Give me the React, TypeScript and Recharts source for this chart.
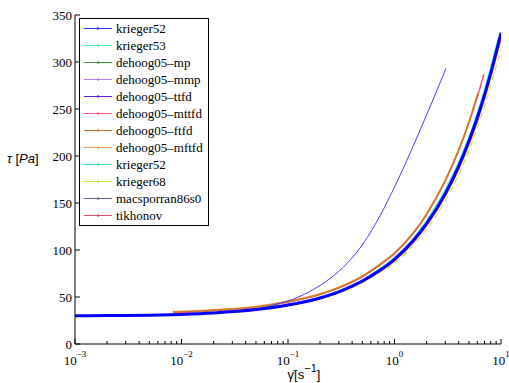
import React from 'react'
import { LineChart, Line, XAxis, YAxis, Legend } from 'recharts'

// shear rate [1/s] and stress [Pa]
const MAIN_X = [0.001, 0.002, 0.005, 0.01, 0.02, 0.05, 0.1, 0.2, 0.3, 0.5, 0.7, 1, 1.5, 2, 3, 4, 5, 6, 7, 8, 10]
const MAIN_Y = [30, 30.2, 30.6, 31.5, 33, 36.6, 41.5, 49, 55.5, 67, 77, 90, 110, 128, 160, 189, 216, 241, 265, 288, 331]

const TIKHONOV_Y = [30, 30.2, 30.6, 31.5, 33, 36.5, 41.2, 48.5, 55, 66, 76, 88.5, 108, 126, 157.5, 186, 212.5, 237, 261, 284, 325]
const KRIEGER68_Y = [30, 30.2, 30.6, 31.5, 33, 36.4, 40.8, 48, 54, 65, 75, 86, 105, 122, 153, 180, 206, 230, 253, 275, 314]

const K53_X = [0.001, 0.002, 0.005, 0.01, 0.02, 0.05, 0.1, 0.2, 0.3, 0.5, 0.7, 1, 1.5, 2, 3, 4, 5, 6, 7, 8, 9.5]
const K53_Y = [30, 30.2, 30.7, 31.6, 33.2, 37, 42, 50, 56.5, 68, 78.5, 92, 112, 131, 164, 193, 220, 246, 270, 294, 326]

const TTFD_X = [0.001, 0.01, 0.05, 0.084, 0.12, 0.17, 0.25, 0.36, 0.51, 0.72, 1.03, 1.49, 2.15, 3.04]
const TTFD_Y = [30, 31.5, 37, 43.5, 49, 57.5, 70, 86, 107, 135, 170, 210, 252, 293]

const FTFD_X = [0.0083, 0.01, 0.02, 0.05, 0.1, 0.2, 0.3, 0.5, 0.7, 1, 1.5, 2, 3, 4, 5, 6.1]
const FTFD_Y = [34, 34.3, 36, 39.5, 45, 53, 60, 72, 83, 96.5, 118, 138, 174, 206, 236, 267]
const MFTFD_Y = [34.5, 34.8, 36.5, 40, 45.5, 53.5, 60.5, 72.5, 83.5, 97, 118.5, 138.5, 174.5, 206.5, 236.5, 267.5]

const MTTFD_X = [0.0083, 0.01, 0.02, 0.05, 0.1, 0.2, 0.3, 0.5, 0.7, 1, 1.5, 2, 3, 4, 5, 6, 6.9]
const MTTFD_Y = [33.5, 33.8, 35.5, 39, 44.5, 52.5, 59.5, 71.5, 82.5, 96, 117.5, 137.5, 173.5, 205.5, 235.5, 263, 287]

const DECADES = [0.001, 0.01, 0.1, 1, 10]
const Y_TICKS = [0, 50, 100, 150, 200, 250, 300, 350]

const LEGEND_NAMES = [
  'krieger52', 'krieger53', 'dehoog05–mp', 'dehoog05–mmp', 'dehoog05–ttfd', 'dehoog05–mttfd',
  'dehoog05–ftfd', 'dehoog05–mftfd', 'krieger52', 'krieger68', 'macsporran86s0', 'tikhonov',
]
const LEGEND_COLORS = [
  '#3030ff', '#44f0c4', '#3c8c3c', '#b07cf0', '#5a22e6', '#f05c78',
  '#c87a2c', '#ff9c50', '#34e0b4', '#c8e63c', '#6a5a9a', '#e0506a',
]

const zip = (xs: number[], ys: number[]) => xs.map((x, i) => ({ x, y: ys[i] }))

const X_TICKS: number[] = []
DECADES.forEach((d, i) => {
  X_TICKS.push(d)
  if (i < DECADES.length - 1) for (let m = 2; m <= 9; m++) X_TICKS.push(d * m)
})

const SERIF = '"Liberation Serif", "Times New Roman", Times, "DejaVu Serif", serif'
const SANS = '"Liberation Sans", Arial, Helvetica, sans-serif'

function XTick(props: any) {
  const { x, y, payload } = props
  const lg = Math.log10(payload.value)
  const e = Math.round(lg)
  const major = Math.abs(lg - e) < 1e-6
  return (
    <g>
      <line x1={x} x2={x} y1={y} y2={y - (major ? 5 : 3)} stroke="#000" />
      {major && (
        <text x={x} y={y + 21} textAnchor="middle" fontFamily={SERIF} fontSize={13} fill="#000">
          10<tspan dy={-8} fontSize={9}>{e < 0 ? '−' + -e : String(e)}</tspan>
        </text>
      )}
    </g>
  )
}

function YTick(props: any) {
  const { x, y, payload } = props
  return (
    <g>
      <line x1={x} x2={x + 5} y1={y} y2={y} stroke="#000" />
      <text x={x - 3} y={y + 4.5} textAnchor="end" fontFamily={SERIF} fontSize={13} fill="#000">
        {payload.value}
      </text>
    </g>
  )
}

function LegendBox() {
  return (
    <div
      style={{
        border: '1px solid #000',
        background: '#fff',
        padding: '1px 5px 1px 4px',
        fontFamily: SERIF,
        fontSize: 13,
        color: '#000',
      }}
    >
      {LEGEND_NAMES.map((n, i) => (
        <div key={i} style={{ display: 'flex', alignItems: 'center', height: 17, whiteSpace: 'nowrap' }}>
          <svg width={28} height={17} style={{ display: 'block' }}>
            <line x1={0} x2={28} y1={8.5} y2={8.5} stroke={LEGEND_COLORS[i]} />
            <circle cx={14} cy={8.5} r={1.2} fill={LEGEND_COLORS[i]} />
          </svg>
          <span style={{ marginLeft: 4, lineHeight: '17px' }}>{n}</span>
        </div>
      ))}
    </div>
  )
}

export default function App() {
  const main = zip(MAIN_X, MAIN_Y)
  return (
    <div style={{ position: 'absolute', left: 0, top: 0, width: 509, height: 383, background: '#fff' }}>
      <LineChart width={509} height={383} margin={{ top: 15, right: 8, left: 0, bottom: 0 }}>
        <XAxis
          dataKey="x"
          type="number"
          scale="log"
          domain={[0.001, 10]}
          allowDataOverflow
          ticks={X_TICKS}
          interval={0}
          tick={<XTick />}
          tickSize={0}
          tickMargin={0}
          tickLine={false}
          axisLine={{ stroke: '#000' }}
          height={39}
          label={(p: any) => {
            const vb = p.viewBox
            return (
              <text x={vb.x + vb.width / 2 + 16} y={vb.y + 35} textAnchor="middle" fontFamily={SANS} fontSize={13} fill="#000">
                γ̇[s<tspan dy={-7} fontSize={11}>−1</tspan><tspan dy={7}>]</tspan>
              </text>
            )
          }}
        />
        <YAxis
          type="number"
          domain={[0, 350]}
          ticks={Y_TICKS}
          interval={0}
          tick={<YTick />}
          tickSize={0}
          tickMargin={0}
          tickLine={false}
          axisLine={{ stroke: '#000' }}
          width={75}
          label={(p: any) => {
            const vb = p.viewBox
            return (
              <text x={vb.x + 7} y={vb.y + vb.height * 0.45} fontFamily={SANS} fontSize={13} fill="#000">
                <tspan fontStyle="italic">τ</tspan> [<tspan fontStyle="italic">Pa</tspan>]
              </text>
            )
          }}
        />
        <Legend
          layout="vertical"
          align="center"
          verticalAlign="middle"
          wrapperStyle={{ left: 79, top: 18, width: 'auto', height: 'auto' }}
          content={() => <LegendBox />}
        />
        {/* curves hidden under the main one */}
        <Line data={main} dataKey="y" name="dehoog05–mp" type="monotone" stroke={LEGEND_COLORS[2]} dot={false} isAnimationActive={false} />
        <Line data={main} dataKey="y" name="dehoog05–mmp" type="monotone" stroke={LEGEND_COLORS[3]} dot={false} isAnimationActive={false} />
        <Line data={main} dataKey="y" name="macsporran86s0" type="monotone" stroke={LEGEND_COLORS[10]} dot={false} isAnimationActive={false} />
        <Line data={main} dataKey="y" name="krieger52b" type="monotone" stroke={LEGEND_COLORS[8]} dot={false} isAnimationActive={false} />
        <Line data={zip(MAIN_X, KRIEGER68_Y)} dataKey="y" name="krieger68" type="monotone" stroke={LEGEND_COLORS[9]} strokeWidth={1.2} strokeDasharray="6 4" dot={false} isAnimationActive={false} />
        <Line data={zip(MAIN_X, TIKHONOV_Y)} dataKey="y" name="tikhonov" type="monotone" stroke={LEGEND_COLORS[11]} strokeWidth={1.5} dot={false} isAnimationActive={false} />
        <Line data={zip(K53_X, K53_Y)} dataKey="y" name="krieger53" type="monotone" stroke={LEGEND_COLORS[1]} strokeWidth={1.5} dot={false} isAnimationActive={false} />
        <Line data={zip(MTTFD_X, MTTFD_Y)} dataKey="y" name="dehoog05–mttfd" type="monotone" stroke={LEGEND_COLORS[5]} strokeWidth={1.5} dot={false} isAnimationActive={false} />
        <Line data={zip(FTFD_X, MFTFD_Y)} dataKey="y" name="dehoog05–mftfd" type="monotone" stroke={LEGEND_COLORS[7]} strokeWidth={1.5} dot={false} isAnimationActive={false} />
        <Line data={zip(FTFD_X, FTFD_Y)} dataKey="y" name="dehoog05–ftfd" type="monotone" stroke={LEGEND_COLORS[6]} strokeWidth={1.5} dot={false} isAnimationActive={false} />
        <Line data={zip(TTFD_X, TTFD_Y)} dataKey="y" name="dehoog05–ttfd" type="monotone" stroke="#4a40f0" strokeWidth={1} dot={false} isAnimationActive={false} />
        <Line data={main} dataKey="y" name="krieger52" type="monotone" stroke="#0000ff" strokeWidth={3} dot={false} isAnimationActive={false} />
      </LineChart>
    </div>
  )
}
